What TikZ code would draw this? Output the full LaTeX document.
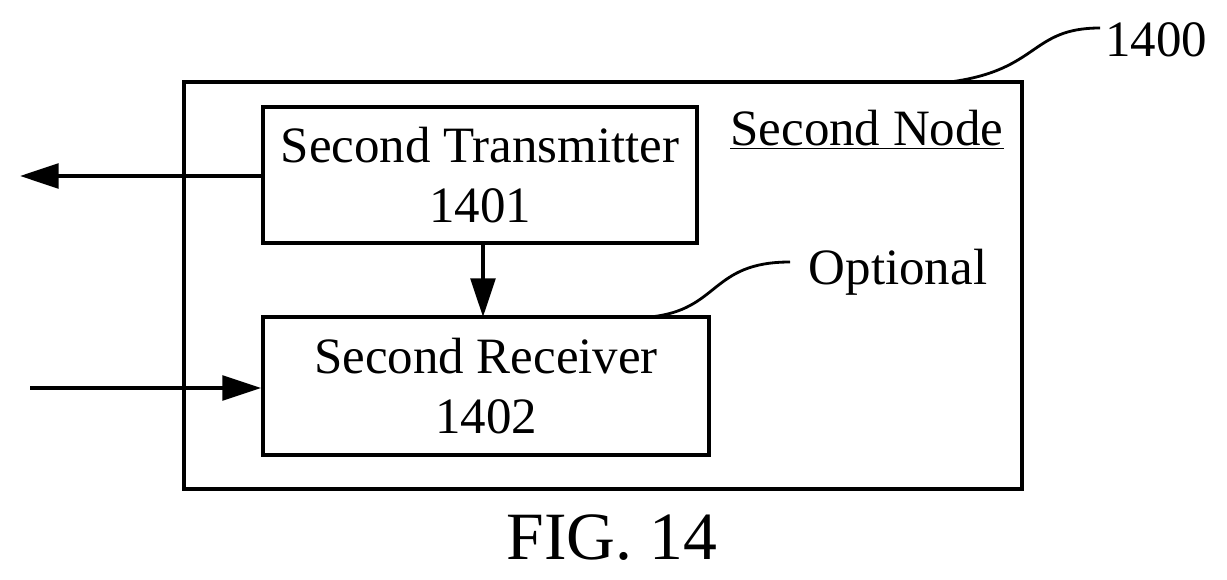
\documentclass[tikz,border=0pt]{standalone}
\usepackage{fontspec}
\setmainfont{Liberation Serif}
\usetikzlibrary{arrows.meta}
\begin{document}
\begin{tikzpicture}[x=0.02cm,y=-0.02cm,line width=2.2pt,
  box/.style={draw,line width=2.2pt},
  txt/.style={font=\fontsize{29}{34}\selectfont,align=center},
  arr/.style={-{Triangle[length=22pt,width=14pt]}}]
\useasboundingbox (0,0) rectangle (1227,580);
\draw[box] (184,82) rectangle (1022,489);
\node[box,minimum width=434*0.02cm,minimum height=136*0.02cm,inner sep=0] (tx) at (480,175) {};
\node[txt] at (tx) {Second Transmitter\\1401};
\node[box,minimum width=446*0.02cm,minimum height=138*0.02cm,inner sep=0] (rx) at (486,386) {};
\node[txt] at (rx) {Second Receiver\\1402};
\node[txt,anchor=center] (sn) at (867,130) {\underline{Second Node}};
\node[txt] (opt) at (898,272) {Optional};
\node[txt] (lbl) at (1156,40) {1400};
\node[font=\fontsize{38.5}{44}\selectfont] (fig) at (612,538) {FIG. 14};
\coordinate (outL) at (20,176);
\coordinate (inL) at (30,388);
\draw[arr] (tx.west |- 0,176) -- (outL);
\draw[arr] (inL) -- (rx.west |- 0,388);
\draw[arr] (483,243) -- (483,317);
\draw[line width=1.6pt] (650,317) .. controls (720,310) and (710,262) .. (790,262);
\draw[line width=1.6pt] (950,82) .. controls (1040,70) and (1030,28) .. (1100,28);
\end{tikzpicture}
\end{document}
